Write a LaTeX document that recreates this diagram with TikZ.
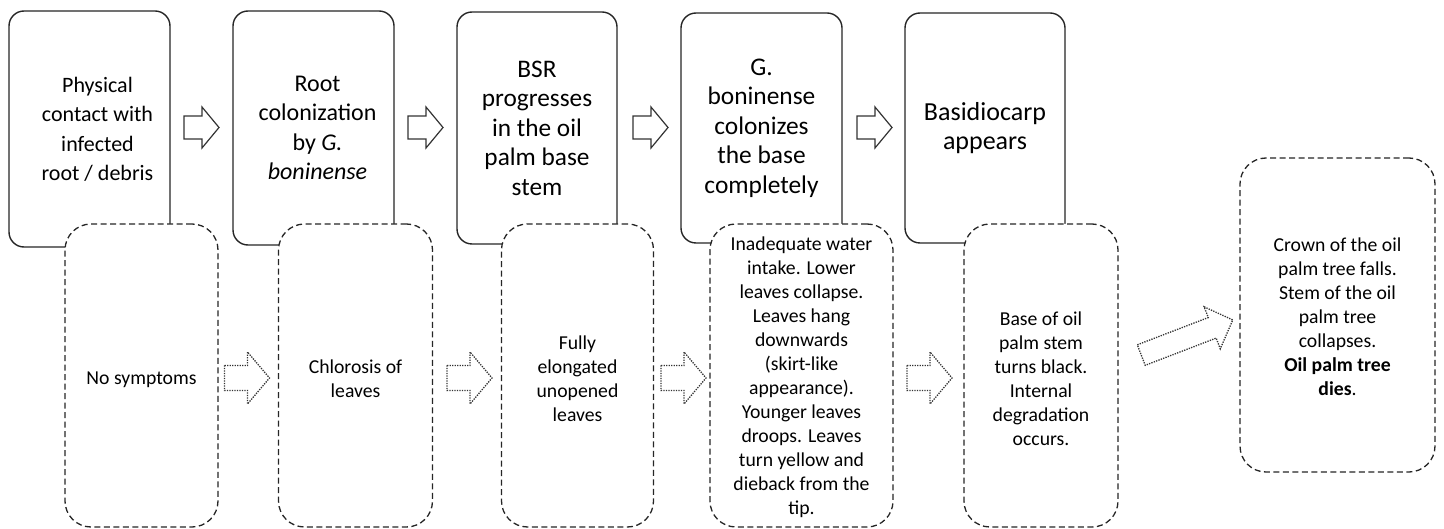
\documentclass[tikz,border=0pt]{standalone}
\usepackage{fontspec}
\setmainfont{Carlito}
\begin{document}
\begin{tikzpicture}[x=1pt,y=-1pt,
  topbox/.style={draw=black!85, line width=1.4pt, rounded corners=15pt, fill=white, align=center,
    inner sep=0pt},
  toptext/.style={align=center, inner sep=0pt},
  botbox/.style={draw=black!85, line width=1.3pt, dash pattern=on 6pt off 3.5pt, rounded corners=26pt,
    fill=white, inner sep=0pt},
  bottext/.style={align=center, inner sep=0pt, font=\fontsize{19.7}{24}\selectfont},
  solidarr/.style={draw=black!80, line width=1.2pt, fill=white},
  dotarr/.style={draw=black!80, line width=1.3pt, dash pattern=on 1.3pt off 1.2pt, fill=white},
  pics/flowarrow/.style n args={4}{code={
    \path[pic actions] (-#1/2,-#2/2) -- (#1/2-#4,-#2/2) -- (#1/2-#4,-#3/2) -- (#1/2,0)
      -- (#1/2-#4,#3/2) -- (#1/2-#4,#2/2) -- (-#1/2,#2/2) -- cycle;}}
]
\useasboundingbox (0,0) rectangle (1444,529);

% top (solid) boxes
\node[topbox, minimum width=161pt, minimum height=236pt] (t1) at (89.5,129) {};
\node[topbox, minimum width=161pt, minimum height=234pt] (t2) at (313.5,128) {};
\node[topbox, minimum width=160pt, minimum height=232pt] (t3) at (537,128) {};
\node[topbox, minimum width=161pt, minimum height=230pt] (t4) at (761.5,128) {};
\node[topbox, minimum width=160pt, minimum height=230pt] (t5) at (985,128) {};

\node[toptext, font=\fontsize{22}{29.5}\selectfont] (l1) at ([xshift=8pt,yshift=-0.5pt]t1.center)
  {Physical\\contact with\\infected\\root / debris};
\node[toptext, font=\fontsize{24}{29.5}\selectfont] (l2) at ([xshift=4pt]t2.center)
  {Root\\colonization\\by \textit{G.}\\\textit{boninense}};
\node[toptext, font=\fontsize{25.3}{29.5}\selectfont] (l3) at (t3.center)
  {BSR\\progresses\\in the oil\\palm base\\stem};
\node[toptext, font=\fontsize{25.4}{29.5}\selectfont] (l4) at (t4.center)
  {G.\\boninense\\colonizes\\the base\\completely};
\node[toptext, font=\fontsize{26}{29.5}\selectfont] (l5) at (t5.center)
  {Basidiocarp\\appears};

% solid block arrows
\coordinate (a1) at (201.5,127.5);
\coordinate (a2) at (425.5,127.5);
\coordinate (a3) at (650.5,127.5);
\coordinate (a4) at (874.5,127.5);
\foreach \c in {a1,a2,a3,a4}
  \pic[solidarr] at (\c) {flowarrow={35}{23}{41}{17}};

% bottom (dashed) boxes
\node[botbox, minimum width=153pt, minimum height=303pt] (b1) at (141.5,375.5) {};
\node[botbox, minimum width=154pt, minimum height=303pt] (b2) at (355.5,375.5) {};
\node[botbox, minimum width=152pt, minimum height=303pt] (b3) at (577.5,375.5) {};
\node[botbox, minimum width=183pt, minimum height=303pt] (b4) at (801.5,375.5) {};
\node[botbox, minimum width=154pt, minimum height=303pt] (b5) at (1041,375.5) {};
\node[botbox, minimum width=195pt, minimum height=314pt] (b6) at (1337.5,315) {};

\node[bottext] (s1) at ([yshift=-4pt]b1.center) {No symptoms};
\node[bottext] (s2) at ([yshift=-3pt]b2.center) {Chlorosis of\\leaves};
\node[bottext] (s3) at ([yshift=-3pt]b3.center) {Fully\\elongated\\unopened\\leaves};
\node[bottext] (s4) at ([yshift=-2pt]b4.center)
  {Inadequate water\\intake. Lower\\leaves collapse.\\Leaves hang\\downwards\\(skirt-like\\appearance).\\Younger leaves\\droops. Leaves\\turn yellow and\\dieback from the\\tip.};
\node[bottext] (s5) at ([yshift=-3pt]b5.center)
  {Base of oil\\palm stem\\turns black.\\Internal\\degradation\\occurs.};
\node[bottext] (s6) at ([yshift=-1.5pt]b6.center)
  {Crown of the oil\\palm tree falls.\\Stem of the oil\\palm tree\\collapses.\\\textbf{Oil palm tree}\\\textbf{dies}.};

% dotted block arrows
\coordinate (d1) at (247,378);
\coordinate (d2) at (469.5,378);
\coordinate (d3) at (683.5,378);
\coordinate (d4) at (929.5,378);
\foreach \c in {d1,d2,d3,d4}
  \pic[dotarr] at (\c) {flowarrow={45}{25}{52}{22}};
\coordinate (d5) at (1187,337.5);
\pic[dotarr, rotate=21] at (d5) {flowarrow={98}{22}{45}{22}};
\end{tikzpicture}
\end{document}
